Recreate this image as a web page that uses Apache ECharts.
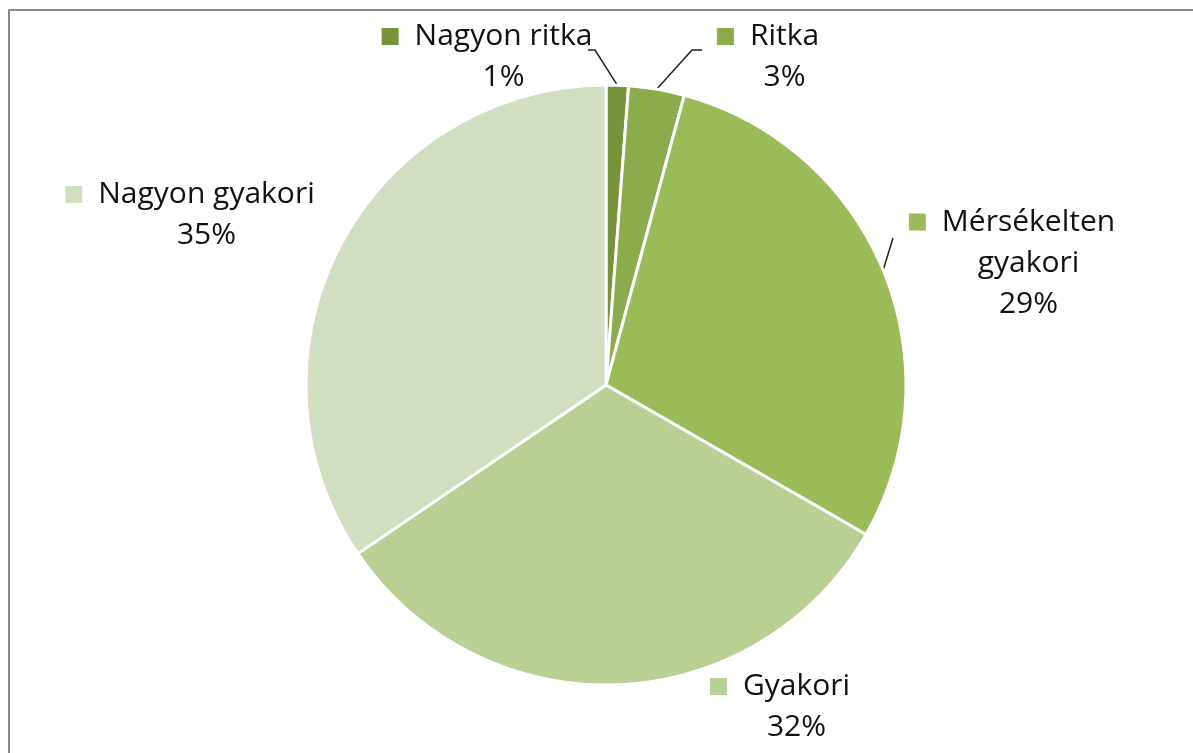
<!DOCTYPE html>
<html>
<head>
<meta charset="utf-8">
<script src="https://cdn.jsdelivr.net/npm/echarts@6/dist/echarts.min.js"></script>
<style>
  html, body { margin: 0; padding: 0; background: #fff; overflow: hidden; }
  #chart { width: 1193px; height: 753px; }
</style>
</head>
<body>
<div id="chart"></div>
<script>
// Category names, clockwise from 12 o'clock
const categories = ['Nagyon ritka', 'Ritka', 'Mérsékelten gyakori', 'Gyakori', 'Nagyon gyakori'];
// Share of answers (percent)
const shares = [1.2, 3.0, 29.1, 32.2, 34.5];
// Slice colours
const colors = ['#77933c', '#8cab4c', '#9bbb59', '#b9cf94', '#d2dec0'];

// Label placement relative to the pie centre, and optional leader-line bends
const labelSpots = [
  { dx: -119, dy: -328, line: [[-11, -335], [-18, -335]] },
  { dx: 162, dy: -328, line: [[86, -335], [96, -335]] },
  { dx: 406, dy: -122, line: [[287, -147]] },
  { dx: 174, dy: 322, line: null },
  { dx: -416, dy: -170, line: null }
];

const CX = 606, CY = 385, R = 300;

const FONT = { fontSize: 30, lineHeight: 41, color: '#111111', fontFamily: 'Open Sans' };
const rich = {
  gap: { width: 16 },
  pad: { width: 33 },
  nm: Object.assign({}, FONT),
  pct: Object.assign({}, FONT)
};
colors.forEach((c, i) => {
  rich['sq' + i] = { width: 17, height: 17, backgroundColor: c };
});

const chart = echarts.init(document.getElementById('chart'), null, { renderer: 'canvas' });

chart.setOption({
  animation: false,
  backgroundColor: '#fff',
  graphic: [{
    type: 'rect',
    silent: true,
    shape: { x: 9, y: 10, width: 1400, height: 1000 },
    style: { fill: null, stroke: '#8a8a8a', lineWidth: 2 }
  }],
  series: [{
    type: 'pie',
    center: [CX, CY],
    radius: [0, R],
    startAngle: 90,
    clockwise: true,
    percentPrecision: 0,
    itemStyle: { borderColor: '#ffffff', borderWidth: 3 },
    label: {
      show: true,
      position: 'outside',
      formatter: (p) => {
        const words = p.name.length > 16 ? p.name.split(' ') : [p.name];
        let s = '{sq' + p.dataIndex + '|}{gap|}{nm|' + words[0] + '}';
        for (let k = 1; k < words.length; k++) s += '\n{pad|}{nm|' + words[k] + '}';
        s += '\n{pad|}{pct|' + p.percent + '%}';
        return s;
      },
      rich: rich,
      align: 'center'
    },
    labelLine: { show: true, lineStyle: { color: '#222', width: 1.5 } },
    labelLayout: (params) => {
      const spot = labelSpots[params.dataIndex];
      const out = {
        x: CX + spot.dx,
        y: CY + spot.dy,
        align: 'center',
        verticalAlign: 'middle'
      };
      if (spot.line && params.labelLinePoints) {
        const start = params.labelLinePoints[0];
        out.labelLinePoints = [start].concat(spot.line.map(pt => [CX + pt[0], CY + pt[1]]));
      }
      return out;
    },
    data: categories.map((name, i) => ({
      name: name,
      value: shares[i],
      itemStyle: { color: colors[i] },
      labelLine: { show: !!labelSpots[i].line }
    }))
  }]
});
</script>
</body>
</html>
